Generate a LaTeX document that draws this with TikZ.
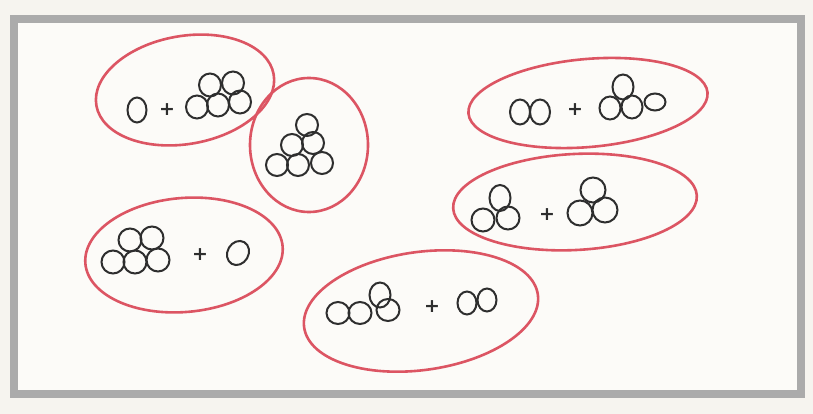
\documentclass[tikz,border=0pt]{standalone}
\usepackage{fontspec}
\newfontfamily\plusfont{DejaVu Sans}
\usetikzlibrary{positioning}
\definecolor{paper}{HTML}{F6F4EF}
\definecolor{sheet}{HTML}{FCFBF8}
\definecolor{frame}{HTML}{ABABAB}
\definecolor{crayon}{HTML}{DC5563}
\definecolor{ink}{HTML}{2E2E2E}

\tikzset{
  loop/.style={draw=crayon, line width=2.6pt},
  bead/.style={draw=ink, line width=2pt},
  plus/.style={text=ink, font=\plusfont\bfseries\fontsize{19}{19}\selectfont, inner sep=0pt}
}

\begin{document}
\begin{tikzpicture}[x=1pt, y=-1pt]

% Background
\useasboundingbox (0,0) rectangle (813,414);
\fill[paper] (0,0) rectangle (813,414);
\fill[sheet] (14,19) rectangle (801,394);
\draw[frame, line width=8.5pt] (14,19) rectangle (801,394);

% === Loops ===
\coordinate (L1) at (185,90);
\coordinate (L2) at (309,145);
\coordinate (L3) at (588,103);
\coordinate (L4) at (575,202);
\coordinate (L5) at (184,255);
\coordinate (L6) at (421,311);

\draw[loop, rotate around={10:(L1)}] (L1) ellipse [x radius=90pt, y radius=54pt];
\draw[loop] (L2) ellipse [x radius=59pt, y radius=67pt];
\draw[loop, rotate around={5:(L3)}] (L3) ellipse [x radius=120pt, y radius=44pt];
\draw[loop, rotate around={3:(L4)}] (L4) ellipse [x radius=122pt, y radius=48pt];
\draw[loop, rotate around={5:(L5)}] (L5) ellipse [x radius=99pt, y radius=57pt];
\draw[loop, rotate around={8:(L6)}] (L6) ellipse [x radius=118pt, y radius=59pt];

% === Top left: 1 + 5 ===
\draw[bead] (137,110) ellipse [x radius=9.5pt, y radius=12.5pt];
\node[plus] (p1) at (167,110) {+};
\foreach \x/\y in {197/107, 218/105, 240/102, 210/85, 233/83}
  \draw[bead] (\x,\y) ellipse [x radius=11pt, y radius=11.5pt];

% === Small loop: 6 in a triangle ===
\foreach \x/\y in {307/125, 292/145, 313/143, 277/165, 298/165, 322/163}
  \draw[bead] (\x,\y) circle (11pt);

% === Top right: 2 + 4 ===
\foreach \x in {520, 540}
  \draw[bead] (\x,112) ellipse [x radius=10pt, y radius=12.5pt];
\node[plus] (p3) at (575,110) {+};
\draw[bead] (623,87) ellipse [x radius=10.5pt, y radius=12.5pt];
\foreach \x/\y in {610/108, 632/107}
  \draw[bead] (\x,\y) ellipse [x radius=10.5pt, y radius=11.5pt];
\draw[bead] (655,102) ellipse [x radius=10.5pt, y radius=8.5pt];

% === Middle right: 3 + 3 ===
\draw[bead] (500,198) ellipse [x radius=10.5pt, y radius=13pt];
\foreach \x/\y in {483/220, 508/218}
  \draw[bead] (\x,\y) circle (11.5pt);
\node[plus] (p4) at (547,215) {+};
\foreach \x/\y in {593/190, 580/213, 605/210}
  \draw[bead] (\x,\y) circle (12.5pt);

% === Bottom left: 5 + 1 ===
\foreach \x/\y in {130/240, 152/238, 113/262, 135/262, 158/260}
  \draw[bead] (\x,\y) circle (11.5pt);
\node[plus] (p5) at (200,255) {+};
\draw[bead, rotate around={-30:(238,253)}] (238,253) ellipse [x radius=10.5pt, y radius=12.5pt];

% === Bottom middle: 4 + 2 ===
\foreach \x/\y in {338/313, 360/313, 388/310}
  \draw[bead] (\x,\y) ellipse [x radius=11.5pt, y radius=11pt];
\draw[bead] (380,295) ellipse [x radius=10.5pt, y radius=12.5pt];
\node[plus] (p6) at (432,307) {+};
\foreach \x/\y in {467/303, 487/300}
  \draw[bead] (\x,\y) ellipse [x radius=9.5pt, y radius=11.5pt];

\end{tikzpicture}
\end{document}
